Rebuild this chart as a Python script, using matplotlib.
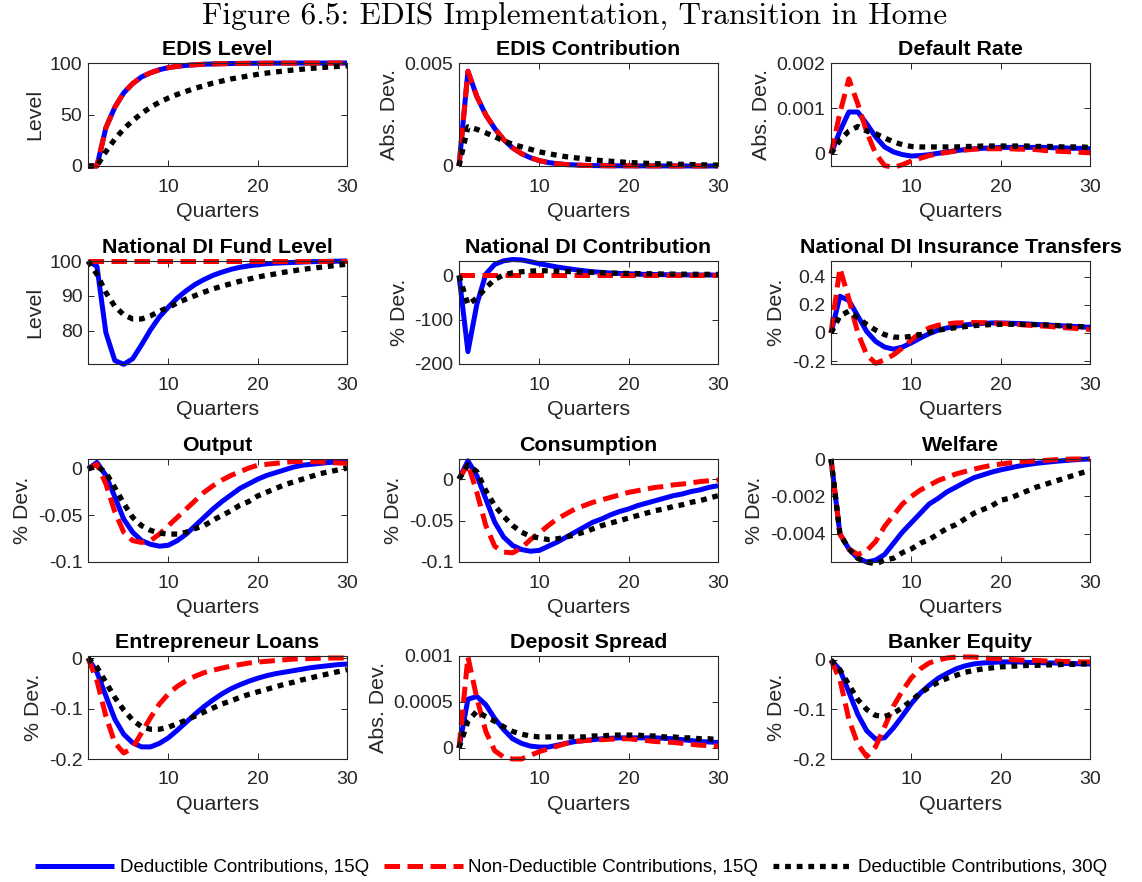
import matplotlib
matplotlib.use("Agg")
import matplotlib.pyplot as plt
import numpy as np

# ---------------------------------------------------------------- data
quarters = np.arange(1, 31)

series_labels = ["Deductible Contributions, 15Q",
                 "Non-Deductible Contributions, 15Q",
                 "Deductible Contributions, 30Q"]

titles = ["EDIS Level", "EDIS Contribution", "Default Rate",
          "National DI Fund Level", "National DI Contribution",
          "National DI Insurance Transfers",
          "Output", "Consumption", "Welfare",
          "Entrepreneur Loans", "Deposit Spread", "Banker Equity"]

ylabels = ["Level", "Abs. Dev.", "Abs. Dev.",
           "Level", "% Dev.", "% Dev.",
           "% Dev.", "% Dev.", "% Dev.",
           "% Dev.", "Abs. Dev.", "% Dev."]

# EDIS Level
edis_level_ded15 = [0, 0, 37, 57, 71, 80, 86.5, 90.5, 93.5, 95.5, 96.8, 97.7, 98.3, 98.8, 99.1,
                    99.3, 99.5, 99.6, 99.7, 99.75, 99.8, 99.85, 99.9, 99.9, 99.92, 99.94, 99.95,
                    99.96, 99.97, 99.98]
edis_level_nonded15 = [0, 0, 37, 57, 71, 80, 86.5, 90.5, 93.5, 95.5, 96.8, 97.7, 98.3, 98.8, 99.1,
                       99.3, 99.5, 99.6, 99.7, 99.75, 99.8, 99.85, 99.9, 99.9, 99.92, 99.94, 99.95,
                       99.96, 99.97, 99.98]
edis_level_ded30 = [0, 0, 14, 26, 36, 44, 51, 57, 62, 66, 69.5, 72.5, 75.5, 78, 80.5, 82.5, 84.5,
                    86, 87.5, 89, 90.2, 91.3, 92.3, 93.2, 94, 94.8, 95.5, 96.1, 96.7, 97.2]

# EDIS Contribution
edis_contrib_ded15 = [0, 0.0046, 0.00337, 0.00248, 0.00182, 0.00128, 0.00088, 0.0006, 0.0004,
                      0.00026, 0.00017, 0.00011, 0.00007, 0.00005, 0.00003, 0.00002, 0.000015,
                      0.00001, 0.00001, 0.00001, 0.000005, 0.000005, 0.000004, 0.000003, 0.000002,
                      0.000002, 0.000001, 0.000001, 0.000001, 0.0]
edis_contrib_nonded15 = [0, 0.0046, 0.00337, 0.00248, 0.00182, 0.00128, 0.00088, 0.0006, 0.0004,
                         0.00026, 0.00017, 0.00011, 0.00007, 0.00005, 0.00003, 0.00002, 0.000015,
                         0.00001, 0.00001, 0.00001, 0.000005, 0.000005, 0.000004, 0.000003,
                         0.000002, 0.000002, 0.000001, 0.000001, 0.000001, 0.0]
edis_contrib_ded30 = [0, 0.0019, 0.00178, 0.00161, 0.00142, 0.00122, 0.00106, 0.00093, 0.00081,
                      0.00069, 0.0006, 0.00052, 0.00045, 0.0004, 0.00035, 0.0003, 0.00026, 0.00023,
                      0.0002, 0.00017, 0.00015, 0.00013, 0.00011, 0.0001, 0.00009, 0.00008,
                      0.00007, 0.00006, 0.00005, 0.00004]

# Default Rate
default_ded15 = [0, 0.0005, 0.00092, 0.00092, 0.00066, 0.00037, 0.00015, 0.00004, -0.00002,
                 -0.00005, -0.00004, -0.00002, 0.00001, 0.00004, 0.00007, 0.00009, 0.00011,
                 0.00012, 0.00013, 0.00014, 0.00014, 0.00014, 0.00014, 0.00014, 0.00014, 0.00013,
                 0.00013, 0.00012, 0.00012, 0.00011]
default_nonded15 = [0, 0.0009, 0.00165, 0.0011, 0.00048, 0.0, -0.00026, -0.0003, -0.00024,
                    -0.00016, -0.0001, -0.00004, 0.0, 0.00003, 0.00006, 0.00008, 0.0001, 0.00011,
                    0.00011, 0.00011, 0.00011, 0.0001, 0.0001, 0.00009, 0.00007, 0.00006, 0.00005,
                    0.00004, 0.00003, 0.00002]
default_ded30 = [0, 0.0003, 0.0005, 0.0006, 0.0005, 0.00044, 0.00035, 0.00026, 0.0002, 0.00016,
                 0.00015, 0.00015, 0.00015, 0.00015, 0.00015, 0.00016, 0.00016, 0.00017, 0.00017,
                 0.00017, 0.00017, 0.00017, 0.00017, 0.00016, 0.00016, 0.00016, 0.00015, 0.00015,
                 0.00015, 0.00014]

# National DI Fund Level
fund_ded15 = [100, 98.5, 79.5, 71.5, 70.4, 72, 76, 80.3, 84, 86.8, 89.4, 91.5, 93.3, 94.7, 95.9,
              96.8, 97.6, 98.2, 98.6, 98.9, 99.2, 99.4, 99.5, 99.6, 99.7, 99.8, 99.85, 99.9,
              99.95, 100]
fund_nonded15 = [100, 100, 100, 100, 100, 100, 100, 100, 100, 100, 100, 100, 100, 100, 100,
                 100, 100, 100, 100, 100, 100, 100, 100, 100, 100, 100, 100, 100, 100, 100]
fund_ded30 = [100, 96.2, 91, 87, 84.6, 83.4, 83.4, 84.3, 85.6, 86.7, 88, 89.1, 90.1, 91.1, 92,
              92.8, 93.5, 94.2, 94.8, 95.4, 95.9, 96.3, 96.8, 97.2, 97.6, 97.9, 98.2, 98.5, 98.8,
              99.1]

# National DI Contribution
ndi_contrib_ded15 = [0, -172, -65, 3, 25, 33, 36, 35, 31, 26.5, 22.7, 19, 16, 13, 10.6, 8.3, 6.8,
                     5.3, 4.5, 3.8, 3, 2.3, 2, 1.7, 1.5, 1.3, 1.1, 1, 0.9, 0.8]
ndi_contrib_nonded15 = [0, 0, 0, 0, 0, 0, 0, 0, 0, 0, 0, 0, 0, 0, 0, 0, 0, 0, 0, 0, 0, 0, 0, 0,
                        0, 0, 0, 0, 0, 0]
ndi_contrib_ded30 = [0, -66, -51, -28, -9, 1, 6, 8.3, 9.8, 10.6, 10.5, 9.8, 9, 8.3, 7.5, 6.8, 6,
                     5.3, 4.9, 4.5, 4.1, 3.8, 3.5, 3.2, 3, 2.8, 2.6, 2.5, 2.4, 2.3]

# National DI Insurance Transfers
transfers_ded15 = [0, 0.26, 0.23, 0.12, 0.01, -0.06, -0.1, -0.115, -0.1, -0.07, -0.036, -0.005,
                   0.02, 0.036, 0.048, 0.057, 0.064, 0.068, 0.071, 0.071, 0.069, 0.067, 0.064,
                   0.06, 0.057, 0.053, 0.05, 0.047, 0.043, 0.04]
transfers_nonded15 = [0, 0.46, 0.24, 0.0, -0.155, -0.215, -0.19, -0.155, -0.107, -0.048, 0.0,
                      0.036, 0.055, 0.064, 0.071, 0.073, 0.074, 0.073, 0.071, 0.068, 0.064, 0.06,
                      0.055, 0.051, 0.048, 0.043, 0.038, 0.034, 0.029, 0.024]
transfers_ded30 = [0, 0.12, 0.155, 0.107, 0.06, 0.02, -0.012, -0.029, -0.031, -0.024, -0.012,
                   0.005, 0.02, 0.029, 0.038, 0.045, 0.052, 0.056, 0.06, 0.061, 0.062, 0.061,
                   0.06, 0.059, 0.057, 0.054, 0.05, 0.048, 0.045, 0.043]

# Output
output_ded15 = [0, 0.007, -0.007, -0.03, -0.054, -0.068, -0.077, -0.081, -0.083, -0.082, -0.077,
                -0.07, -0.061, -0.052, -0.043, -0.035, -0.028, -0.021, -0.016, -0.011, -0.007,
                -0.004, -0.001, 0.002, 0.004, 0.005, 0.006, 0.007, 0.0075, 0.008]
output_nonded15 = [0, 0.005, -0.016, -0.046, -0.068, -0.077, -0.079, -0.077, -0.07, -0.061,
                   -0.052, -0.043, -0.034, -0.025, -0.018, -0.012, -0.007, -0.003, 0.001, 0.004,
                   0.005, 0.006, 0.007, 0.008, 0.008, 0.008, 0.0075, 0.007, 0.0065, 0.006]
output_ded30 = [0, 0.003, -0.004, -0.02, -0.037, -0.052, -0.061, -0.066, -0.069, -0.07, -0.07,
                -0.068, -0.064, -0.061, -0.055, -0.05, -0.045, -0.039, -0.035, -0.029, -0.025,
                -0.021, -0.017, -0.014, -0.011, -0.008, -0.005, -0.003, -0.001, 0.001]

# Consumption
cons_ded15 = [0, 0.022, 0.004, -0.024, -0.052, -0.07, -0.08, -0.085, -0.087, -0.086, -0.081,
              -0.076, -0.07, -0.064, -0.058, -0.052, -0.048, -0.043, -0.039, -0.036, -0.032,
              -0.029, -0.026, -0.023, -0.02, -0.018, -0.015, -0.013, -0.01, -0.008]
cons_nonded15 = [0, 0.018, -0.016, -0.056, -0.081, -0.088, -0.089, -0.083, -0.073, -0.065,
                 -0.056, -0.048, -0.042, -0.036, -0.032, -0.028, -0.025, -0.022, -0.019, -0.016,
                 -0.014, -0.012, -0.01, -0.009, -0.007, -0.006, -0.0045, -0.003, -0.002, -0.001]
cons_ded30 = [0, 0.017, 0.009, -0.014, -0.032, -0.045, -0.056, -0.064, -0.069, -0.071, -0.073,
              -0.072, -0.07, -0.067, -0.064, -0.06, -0.056, -0.053, -0.05, -0.047, -0.044,
              -0.041, -0.038, -0.036, -0.033, -0.031, -0.028, -0.026, -0.023, -0.02]

# Welfare
welfare_ded15 = [0, -0.004, -0.0048, -0.0053, -0.0055, -0.0054, -0.0051, -0.0045, -0.0039,
                 -0.0034, -0.0029, -0.0024, -0.0021, -0.00175, -0.0015, -0.00124, -0.001,
                 -0.00085, -0.0007, -0.00058, -0.00048, -0.00038, -0.0003, -0.00023, -0.00018,
                 -0.00013, -0.00009, -0.00005, -0.00002, 0]
welfare_nonded15 = [0, -0.004, -0.0048, -0.0051, -0.0049, -0.0044, -0.0036, -0.003, -0.0024,
                    -0.002, -0.00166, -0.0014, -0.00115, -0.00097, -0.0008, -0.00067, -0.00054,
                    -0.00043, -0.00034, -0.00027, -0.00021, -0.00016, -0.00013, -0.0001,
                    -0.00007, -0.00004, -0.00002, 0, 0, 0]
welfare_ded30 = [0, -0.004, -0.0048, -0.0053, -0.0055, -0.0056, -0.0054, -0.0053, -0.005,
                 -0.0048, -0.0045, -0.0043, -0.004, -0.0037, -0.0035, -0.0032, -0.0029, -0.0027,
                 -0.0025, -0.0022, -0.0021, -0.0019, -0.0017, -0.0015, -0.00135, -0.0012,
                 -0.00105, -0.0009, -0.00075, -0.0006]

# Entrepreneur Loans
loans_ded15 = [0, -0.028, -0.075, -0.121, -0.151, -0.168, -0.176, -0.176, -0.169, -0.158,
               -0.143, -0.127, -0.111, -0.096, -0.083, -0.071, -0.061, -0.053, -0.046, -0.04,
               -0.035, -0.031, -0.028, -0.025, -0.022, -0.019, -0.017, -0.015, -0.013, -0.012]
loans_nonded15 = [0, -0.045, -0.115, -0.168, -0.188, -0.178, -0.148, -0.118, -0.091, -0.071,
                  -0.056, -0.045, -0.036, -0.029, -0.024, -0.02, -0.016, -0.013, -0.01, -0.008,
                  -0.0065, -0.005, -0.0035, -0.002, -0.0015, -0.001, -0.0005, 0, 0, 0]
loans_ded30 = [0, -0.018, -0.048, -0.078, -0.103, -0.123, -0.136, -0.141, -0.141, -0.137, -0.13,
               -0.123, -0.115, -0.107, -0.099, -0.091, -0.085, -0.078, -0.072, -0.067, -0.062,
               -0.057, -0.052, -0.048, -0.043, -0.039, -0.035, -0.031, -0.027, -0.023]

# Deposit Spread
spread_ded15 = [0, 0.00053, 0.00056, 0.00047, 0.00032, 0.0002, 0.0001, 0.00005, 0.00002,
                0.00001, 0.00001, 0.00003, 0.00005, 0.00007, 0.00008, 0.00009, 0.0001, 0.000105,
                0.00011, 0.00011, 0.00011, 0.00011, 0.00011, 0.000105, 0.0001, 0.00009, 0.00008,
                0.00007, 0.000065, 0.00006]
spread_nonded15 = [0, 0.00099, 0.00054, 0.00018, -0.00003, -0.0001, -0.00012, -0.00012,
                   -0.00008, -0.00004, -0.00001, 0.00002, 0.00005, 0.00007, 0.00008, 0.000085,
                   0.00009, 0.000095, 0.0001, 0.0001, 0.00009, 0.00008, 0.00007, 0.000065,
                   0.00006, 0.00005, 0.00004, 0.00003, 0.000025, 0.00002]
spread_ded30 = [0, 0.00029, 0.0004, 0.00034, 0.00029, 0.00023, 0.00018, 0.00015, 0.00013,
                0.00012, 0.00012, 0.00012, 0.00012, 0.00012, 0.00012, 0.00013, 0.00013, 0.00014,
                0.00014, 0.00014, 0.00014, 0.00013, 0.00013, 0.00012, 0.00012, 0.00011, 0.00011,
                0.0001, 0.0001, 0.00009]

# Banker Equity
equity_ded15 = [0, -0.02, -0.065, -0.11, -0.143, -0.16, -0.157, -0.137, -0.113, -0.088, -0.067,
                -0.051, -0.037, -0.027, -0.018, -0.012, -0.008, -0.006, -0.005, -0.004, -0.004,
                -0.004, -0.005, -0.005, -0.006, -0.006, -0.007, -0.007, -0.008, -0.008]
equity_nonded15 = [0, -0.04, -0.12, -0.17, -0.195, -0.175, -0.135, -0.093, -0.062, -0.036,
                   -0.018, -0.006, 0.0, 0.004, 0.006, 0.006, 0.006, 0.004, 0.003, 0.002, 0.001,
                   0.0, -0.001, -0.001, -0.002, -0.002, -0.003, -0.003, -0.004, -0.004]
equity_ded30 = [0, -0.02, -0.05, -0.08, -0.1, -0.112, -0.114, -0.108, -0.096, -0.082, -0.067,
                -0.055, -0.045, -0.037, -0.031, -0.025, -0.021, -0.018, -0.016, -0.014, -0.013,
                -0.012, -0.011, -0.011, -0.01, -0.01, -0.009, -0.009, -0.008, -0.008]

panel_series = [
    (edis_level_ded15, edis_level_nonded15, edis_level_ded30),
    (edis_contrib_ded15, edis_contrib_nonded15, edis_contrib_ded30),
    (default_ded15, default_nonded15, default_ded30),
    (fund_ded15, fund_nonded15, fund_ded30),
    (ndi_contrib_ded15, ndi_contrib_nonded15, ndi_contrib_ded30),
    (transfers_ded15, transfers_nonded15, transfers_ded30),
    (output_ded15, output_nonded15, output_ded30),
    (cons_ded15, cons_nonded15, cons_ded30),
    (welfare_ded15, welfare_nonded15, welfare_ded30),
    (loans_ded15, loans_nonded15, loans_ded30),
    (spread_ded15, spread_nonded15, spread_ded30),
    (equity_ded15, equity_nonded15, equity_ded30),
]

# y-axis ticks and their printed labels
yticks = [[0, 50, 100], [0, 0.005], [0, 0.001, 0.002],
          [80, 90, 100], [-200, -100, 0], [-0.2, 0, 0.2, 0.4],
          [-0.1, -0.05, 0], [-0.1, -0.05, 0], [-0.004, -0.002, 0],
          [-0.2, -0.1, 0], [0, 0.0005, 0.001], [-0.2, -0.1, 0]]
ytick_labels = [["0", "50", "100"], ["0", "0.005"], ["0", "0.001", "0.002"],
                ["80", "90", "100"], ["-200", "-100", "0"], ["-0.2", "0", "0.2", "0.4"],
                ["-0.1", "-0.05", "0"], ["-0.1", "-0.05", "0"], ["-0.004", "-0.002", "0"],
                ["-0.2", "-0.1", "0"], ["0", "0.0005", "0.001"], ["-0.2", "-0.1", "0"]]
xticks = [10, 20, 30]
xtick_labels = ["10", "20", "30"]

# ---------------------------------------------------------------- style
ylims = [(0, 100), (0, 0.005), (-0.00027, 0.002),
         (70.5, 100), (-200, 32.6), (-0.22, 0.51),
         (-0.1, 0.0107), (-0.1, 0.0242), (-0.0055, 0.0),
         (-0.2, 0.004), (-0.00012, 0.001), (-0.2, 0.008)]

plt.rcParams['font.family'] = ['Liberation Sans', 'DejaVu Sans']
ink = '#262626'
line_styles = [
    dict(color=(0, 0, 1), lw=3.6, linestyle='-', solid_capstyle='butt'),
    dict(color=(1, 0, 0), lw=3.6, dashes=(3.1, 1.5)),
    dict(color='black', lw=3.8, dashes=(1.1, 1.1)),
]

W, H = 1142, 882
fig = plt.figure(figsize=(W / 100, H / 100), dpi=100)

col_left = [88, 459, 831]
col_width = 259
row_bottom = [166, 364, 562, 759]
row_height = 103

handles = []
for i, series in enumerate(panel_series):
    r, c = divmod(i, 3)
    ax = fig.add_axes([col_left[c] / W, 1 - row_bottom[r] / H,
                       col_width / W, row_height / H])
    for j, (vals, st) in enumerate(zip(series, line_styles)):
        ln, = ax.plot(quarters, vals, clip_on=False, label=series_labels[j], **st)
        if i == 0:
            handles.append(ln)
    ax.set_xlim(1, 30)
    ax.set_ylim(*ylims[i])
    ax.set_xticks(xticks)
    ax.set_xticklabels(xtick_labels)
    ax.set_yticks(yticks[i])
    ax.set_yticklabels(ytick_labels[i])
    ax.tick_params(direction='in', top=True, right=True, length=4, width=0.7,
                   labelsize=14, colors=ink, labelcolor=ink)
    ax.tick_params(axis='x', pad=9)
    ax.tick_params(axis='y', pad=4)
    for sp in ax.spines.values():
        sp.set_color(ink)
        sp.set_linewidth(0.8)
    ax.set_title(titles[i], fontsize=15.4, fontweight='bold', pad=6, color='black')
    ax.set_xlabel("Quarters", fontsize=15.4, color=ink, labelpad=5)
    ax.set_ylabel(ylabels[i], fontsize=15.4, color=ink, labelpad=4)

fig.text(0.5035, 0.981, "Figure 6.5: EDIS Implementation, Transition in Home",
         family='cmr10', fontsize=22.5, ha='center', va='center', color='black')

fig.legend(handles, series_labels, loc='center', bbox_to_anchor=(0.5, 0.016), ncol=3,
           frameon=False, fontsize=13.5, handlelength=4.2, handletextpad=0.3,
           columnspacing=0.8, borderaxespad=0, borderpad=0)

fig.savefig("out.png", dpi=100)
